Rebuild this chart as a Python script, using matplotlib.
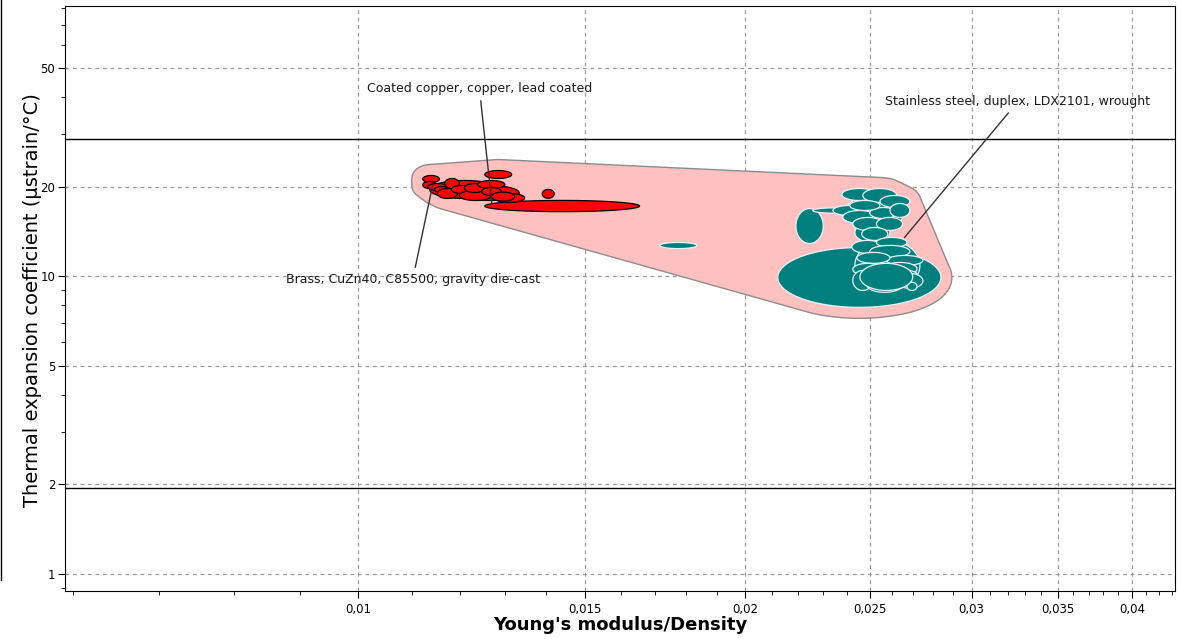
import numpy as np
import matplotlib
matplotlib.use("Agg")
import matplotlib.pyplot as plt
from matplotlib.patches import Polygon
from matplotlib.lines import Line2D
from matplotlib.ticker import FixedLocator, FuncFormatter, NullFormatter

# Property ranges: (E/rho min, E/rho max, CTE min, CTE max)
copper_x_lo = [0.01136, 0.01198, 0.01254, 0.0139, 0.01122, 0.01122, 0.01132, 0.01146,
               0.01167, 0.01152, 0.01181, 0.01198, 0.01209, 0.01238, 0.01254, 0.01247,
               0.01276, 0.01269]
copper_x_hi = [0.01288, 0.01334, 0.01655, 0.0142, 0.01156, 0.0115, 0.01173, 0.01177,
               0.01198, 0.01194, 0.01224, 0.01269, 0.01254, 0.0130, 0.01316, 0.01292,
               0.01347, 0.01323]
copper_y_lo = [18.27, 17.99, 16.5, 18.3, 20.67, 19.74, 19.44, 19.14,
               19.74, 18.27, 18.99, 17.99, 19.14, 19.74, 21.33, 18.70,
               17.72, 17.9]
copper_y_hi = [21.0, 20.2, 18.0, 19.6, 21.83, 20.84, 20.51, 20.04,
               21.33, 19.74, 20.20, 19.44, 20.51, 21.0, 22.68, 19.89,
               18.99, 19.2]

steel_x_lo = [0.0212, 0.0219, 0.02257, 0.01716, 0.02392, 0.02434, 0.02434,
              0.02378, 0.02469, 0.02546, 0.0234, 0.02382, 0.0250, 0.02592, 0.02425,
              0.0253, 0.02464, 0.02412,
              0.02421, 0.0253, 0.0250, 0.02577, 0.02443,
              0.02425, 0.02559, 0.02456, 0.02425, 0.02487, 0.02624, 0.02672, 0.02456]
steel_x_hi = [0.0284, 0.0230, 0.02456, 0.01834, 0.02662, 0.02592, 0.02735,
              0.0253, 0.02624, 0.02686, 0.02487, 0.0253, 0.02624, 0.02686, 0.02559,
              0.02651, 0.02582, 0.02546,
              0.02559, 0.02672, 0.02686, 0.0275, 0.02592,
              0.02559, 0.02721, 0.02721, 0.02513, 0.02651, 0.0275, 0.02721, 0.0270]
steel_y_lo = [7.87, 12.9, 16.3, 12.4, 14.49, 13.0, 8.97,
              17.99, 17.72, 17.04, 16.02, 15.06, 15.65, 15.78, 14.27,
              14.27, 13.21, 16.65,
              11.95, 12.51, 11.58, 10.89, 11.06,
              10.08, 10.08, 9.70, 8.97, 8.84, 9.12, 8.97, 8.97]
steel_y_hi = [12.5, 16.9, 17.0, 13.0, 18.70, 15.18, 13.21,
              19.74, 19.74, 18.70, 17.31, 16.65, 17.04, 17.58, 15.78,
              15.78, 14.60, 17.99,
              13.21, 13.52, 12.71, 11.76, 12.04,
              11.06, 11.14, 10.64, 10.47, 9.92, 10.23, 9.55, 11.06]

limit_lines = [29.0, 1.94]

labels = ["Coated copper, copper, lead coated",
          "Stainless steel, duplex, LDX2101, wrought",
          "Brass, CuZn40, C85500, gravity die-cast"]
label_xy = [(0.0127, 17.6), (0.0266, 13.5), (0.01142, 20.2)]
label_text_xy = [(0.01242, 42.7), (0.0326, 38.7), (0.01102, 9.77)]

x_major = [0.01, 0.015, 0.02, 0.025, 0.03, 0.035, 0.04]
x_minor = [i / 1000 for i in range(6, 44)]
y_major = [1, 2, 5, 10, 20, 50]


def ellipse_pts(x0, x1, y0, y1, n=90):
    # ellipse spanning the range, drawn in log space
    t = np.linspace(0, 2 * np.pi, n)
    lx, rx = (np.log10(x0) + np.log10(x1)) / 2, (np.log10(x1) - np.log10(x0)) / 2
    ly, ry = (np.log10(y0) + np.log10(y1)) / 2, (np.log10(y1) - np.log10(y0)) / 2
    return np.column_stack([10 ** (lx + rx * np.cos(t)), 10 ** (ly + ry * np.sin(t))])


def convex_hull(pts):
    pts = sorted(map(tuple, pts))
    def cross(o, a, b):
        return (a[0] - o[0]) * (b[1] - o[1]) - (a[1] - o[1]) * (b[0] - o[0])
    lower, upper = [], []
    for p in pts:
        while len(lower) >= 2 and cross(lower[-2], lower[-1], p) <= 0:
            lower.pop()
        lower.append(p)
    for p in reversed(pts):
        while len(upper) >= 2 and cross(upper[-2], upper[-1], p) <= 0:
            upper.pop()
        upper.append(p)
    return np.array(lower[:-1] + upper[:-1])


fig = plt.figure(figsize=(11.81, 6.39), dpi=100)
ax = fig.add_axes([65 / 1181, 1 - 591 / 639, 1110 / 1181, 585 / 639])
ax.set_xscale("log")
ax.set_yscale("log")
ax.set_xlim(0.00591, 0.0432)
ax.set_ylim(0.877, 81)

copper = [ellipse_pts(*r) for r in zip(copper_x_lo, copper_x_hi, copper_y_lo, copper_y_hi)]
steel = [ellipse_pts(*r) for r in zip(steel_x_lo, steel_x_hi, steel_y_lo, steel_y_hi)]

# family envelope: convex hull of all bubbles, grown by a few pixels
disp = ax.transData.transform(np.vstack(copper + steel))
ang = np.linspace(0, 2 * np.pi, 24, endpoint=False)
ring = 11 * np.column_stack([np.cos(ang), np.sin(ang)])
grown = (disp[:, None, :] + ring[None, :, :]).reshape(-1, 2)
hull = ax.transData.inverted().transform(convex_hull(grown))
ax.add_patch(Polygon(hull, closed=True, facecolor="#ffc0c0", edgecolor="#8c8c8c",
                     lw=1, zorder=1))

for pts in copper:
    ax.add_patch(Polygon(pts, closed=True, facecolor="#ff0000", edgecolor="black",
                         lw=0.9, zorder=3))
for pts in steel:
    ax.add_patch(Polygon(pts, closed=True, facecolor="#007f7f", edgecolor="#e8f4f4",
                         lw=0.9, zorder=3))

for yv in limit_lines:
    ax.axhline(yv, color="black", lw=1, zorder=2)

for txt, xy, xyt in zip(labels, label_xy, label_text_xy):
    ax.annotate(txt, xy=xy, xytext=xyt, ha="center", va="center", fontsize=9,
                color="#1a1a1a", zorder=5,
                arrowprops=dict(arrowstyle="-", color="#333333", lw=1,
                                shrinkA=2, shrinkB=0))

ax.xaxis.set_major_locator(FixedLocator(x_major))
ax.xaxis.set_minor_locator(FixedLocator(x_minor))
ax.xaxis.set_major_formatter(FuncFormatter(lambda v, p: ("%g" % v).replace(".", ",")))
ax.xaxis.set_minor_formatter(NullFormatter())
ax.yaxis.set_major_locator(FixedLocator(y_major))
ax.yaxis.set_major_formatter(FuncFormatter(lambda v, p: "%g" % v))
ax.yaxis.set_minor_formatter(NullFormatter())
ax.tick_params(which="major", length=5, labelsize=8.5, colors="black")
ax.tick_params(which="minor", length=3)
ax.tick_params(axis="x", pad=4)
ax.tick_params(axis="y", pad=2)

ax.grid(True, which="major", color="#9a9a9a", ls=(0, (3, 3)), lw=0.9, zorder=0)
ax.set_axisbelow(True)

ax.set_xlabel("Young's modulus/Density", fontsize=13, fontweight="bold")
ax.xaxis.set_label_coords(0.5, -0.043)
ax.set_ylabel("Thermal expansion coefficient (µstrain/°C)", fontsize=14)
ax.yaxis.set_label_coords(-0.021, 0.497)

fig.add_artist(Line2D([0.001, 0.001], [1, 1 - 580 / 639], color="black", lw=1))

fig.savefig("out.png", dpi=100)
